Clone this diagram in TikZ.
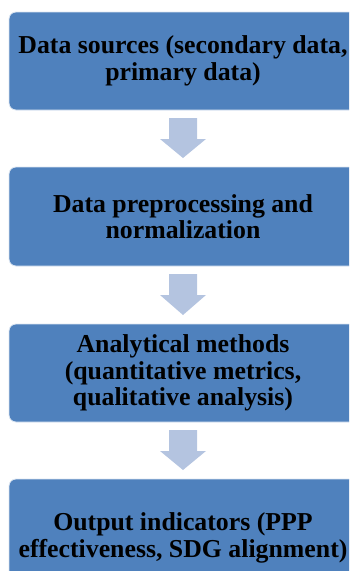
\documentclass[tikz,border=0pt]{standalone}
\usepackage{fontspec}
\setmainfont{Liberation Serif}
\usetikzlibrary{calc}
\definecolor{boxblue}{RGB}{79,129,189}
\definecolor{arrowblue}{RGB}{180,196,224}
\tikzset{
  stage/.style={rectangle, rounded corners=7pt, fill=boxblue, draw=white!80!boxblue,
    line width=0.8pt, minimum width=348pt, inner sep=0pt, outer sep=0pt,
    align=center, text=black, font=\fontsize{25.8}{26.5}\selectfont\bfseries},
  flowarrow/.style={fill=arrowblue, draw=none}
}
\begin{document}
\begin{tikzpicture}[x=1pt, y=-1pt]
  \useasboundingbox (0,0) rectangle (349,571);
  \begin{scope}
    \clip (0,0) rectangle (349,571);
    % the four stages of the workflow
    \node[stage, minimum height=98pt] (b1) at (183,61)
      {Data sources (secondary data,\\primary data)};
    \node[stage, minimum height=99pt] (b2) at (183,216.5)
      {Data preprocessing and\\normalization};
    \node[stage, minimum height=98pt] (b3) at (183,373)
      {Analytical methods\\(quantitative metrics,\\qualitative analysis)};
    \node[stage, minimum height=118pt] (b4) at (183,538)
      {Output indicators (PPP\\effectiveness, SDG alignment)};
    % block arrows between consecutive stages
    \foreach \a/\b in {b1/b2, b2/b3, b3/b4} {
      \fill[flowarrow] ($(\a.south)+(-14,8)$) -- ($(\a.south)+(14,8)$)
        -- ($(\a.south)+(14,29)$) -- ($(\a.south)+(23,29)$)
        -- ($(\b.north)+(0,-9)$)
        -- ($(\a.south)+(-23,29)$) -- ($(\a.south)+(-14,29)$) -- cycle;
    }
  \end{scope}
\end{tikzpicture}
\end{document}
